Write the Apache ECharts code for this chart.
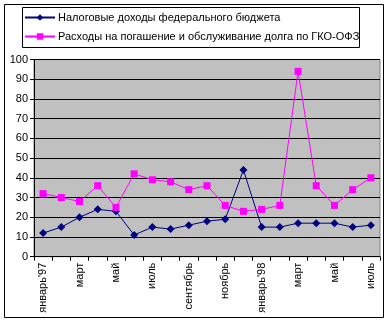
<!DOCTYPE html>
<html>
<head>
<meta charset="utf-8">
<script src="https://cdn.jsdelivr.net/npm/echarts@6/dist/echarts.min.js"></script>
<style>
  html, body { margin: 0; padding: 0; background: #fff; }
  #chart { width: 385px; height: 322px; }
</style>
</head>
<body>
<div id="chart"></div>
<script>
// Months Jan 1997 – Jul 1998
const months = [
  "январь'97", "февраль", "март", "апрель", "май", "июнь", "июль", "август",
  "сентябрь", "октябрь", "ноябрь", "декабрь", "январь'98", "февраль", "март",
  "апрель", "май", "июнь", "июль"
];
const taxRevenue = [12, 15, 20, 24, 23, 11, 15, 14, 16, 18, 19, 44, 15, 15, 17, 17, 17, 15, 16];
const debtService = [32, 30, 28, 36, 25, 42, 39, 38, 34, 36, 26, 23, 24, 26, 94, 36, 26, 34, 40];
const taxName = 'Налоговые доходы федерального бюджета';
const debtName = 'Расходы на погашение и обслуживание долга по ГКО-ОФЗ';

const font = 'Arial, "Liberation Sans", sans-serif';
const chart = echarts.init(document.getElementById('chart'));
chart.setOption({
  animation: false,
  backgroundColor: '#fff',
  textStyle: { fontFamily: font },
  graphic: [
    {
      // outer chart frame
      type: 'rect',
      shape: { x: 4.5, y: 4.5, width: 379, height: 313 },
      style: { fill: 'none', stroke: '#000', lineWidth: 1 },
      silent: true
    },
    {
      // legend frame
      type: 'rect',
      shape: { x: 22.5, y: 7.5, width: 337, height: 40 },
      style: { fill: 'none', stroke: '#000', lineWidth: 1 },
      silent: true
    }
  ],
  legend: {
    orient: 'vertical',
    left: 24,
    top: 12,
    padding: 0,
    itemGap: 8,
    itemWidth: 30,
    itemHeight: 8,
    textStyle: { fontFamily: font, fontSize: 11, color: '#000', padding: [0, 0, 0, -2] },
    data: [taxName, debtName]
  },
  grid: {
    left: 34, right: 5, top: 59.5, bottom: 65.3,
    show: true,
    backgroundColor: '#C0C0C0',
    borderColor: '#808080',
    borderWidth: 1
  },
  xAxis: {
    type: 'category',
    data: months,
    boundaryGap: true,
    axisLine: { lineStyle: { color: '#000', width: 1 } },
    axisTick: { show: true, length: 4, interval: 0, lineStyle: { color: '#000' } },
    axisLabel: {
      interval: 1, rotate: 90, margin: 6,
      fontFamily: font, fontSize: 11, color: '#000'
    },
    splitLine: { show: false }
  },
  yAxis: {
    type: 'value',
    min: 0, max: 100, interval: 10,
    axisLine: { show: true, lineStyle: { color: '#000', width: 1 } },
    axisTick: { show: true, length: 4, lineStyle: { color: '#000' } },
    axisLabel: { margin: 6, fontFamily: font, fontSize: 11, color: '#000' },
    splitLine: { show: true, lineStyle: { color: '#000', width: 1 } }
  },
  series: [
    {
      name: taxName,
      type: 'line',
      data: taxRevenue,
      symbol: 'diamond',
      symbolSize: 8,
      color: '#000080',
      lineStyle: { color: '#000080', width: 1 },
      itemStyle: { color: '#000080' }
    },
    {
      name: debtName,
      type: 'line',
      data: debtService,
      symbol: 'rect',
      symbolSize: 7,
      color: '#FF00FF',
      lineStyle: { color: '#FF00FF', width: 1 },
      itemStyle: { color: '#FF00FF' }
    }
  ]
});
</script>
</body>
</html>
